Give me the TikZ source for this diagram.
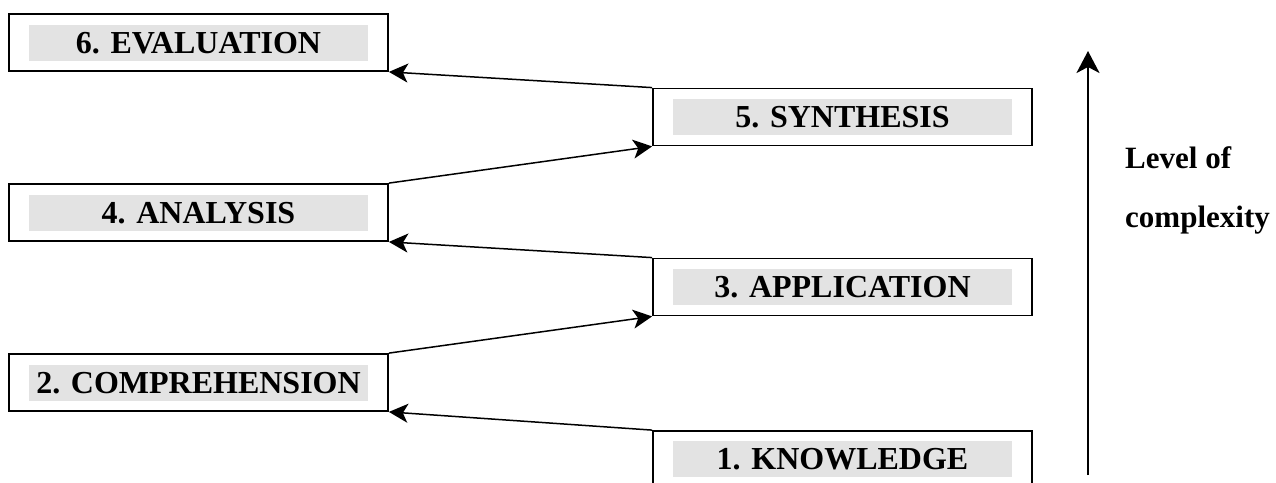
\documentclass[tikz,border=0pt]{standalone}
\usepackage{fontspec}
\setmainfont{Liberation Serif}
\usetikzlibrary{arrows.meta}
\definecolor{boxgray}{RGB}{227,227,227}
\tikzset{
  outerbox/.style={draw, line width=1.8pt, minimum width=379pt, minimum height=57pt, inner sep=0pt},
  labelbox/.style={fill=boxgray, minimum width=339pt, minimum height=36pt, inner sep=0pt,
                   text height=21.5pt, text depth=0pt, font=\fontsize{32}{38}\selectfont\bfseries},
  link/.style={line width=1.5pt, -{Stealth[length=19pt,width=19pt,inset=5pt]}},
  axisarrow/.style={line width=2.4pt, -{Stealth[length=22pt,width=23pt,inset=6pt]}},
  side/.style={anchor=base west, inner sep=0pt, font=\fontsize{31}{37}\selectfont\bfseries}
}
\begin{document}
\begin{tikzpicture}[x=1pt,y=-1pt]
\useasboundingbox (0,0) rectangle (1276,482);
\clip (0,0) rectangle (1276,482);
% boxes
\node[outerbox] (b6) at (198.5,42.5) {};
\node[labelbox] (t6) at (198.5,43) {6. EVALUATION};
\node[outerbox] (b5) at (842.5,117) {};
\node[labelbox] (t5) at (842.5,117) {5. SYNTHESIS};
\node[outerbox] (b4) at (198.5,212.5) {};
\node[labelbox] (t4) at (198.5,212.5) {4. ANALYSIS};
\node[outerbox] (b3) at (842.5,287) {};
\node[labelbox] (t3) at (842.5,287) {3. APPLICATION};
\node[outerbox] (b2) at (198.5,382.5) {};
\node[labelbox] (t2) at (198.5,382.5) {2. COMPREHENSION};
\node[outerbox] (b1) at (842.5,459.5) {};
\node[labelbox] (t1) at (842.5,459) {1. KNOWLEDGE};
% connectors
\draw[link] (b5.north west) -- (b6.south east);
\draw[link] (b4.north east) -- (b5.south west);
\draw[link] (b3.north west) -- (b4.south east);
\draw[link] (b2.north east) -- (b3.south west);
\draw[link] (b1.north west) -- (b2.south east);
% complexity axis
\coordinate (axbot) at (1088,475);
\coordinate (axtop) at (1088,51);
\draw[axisarrow] (axbot) -- (axtop);
\node[side] (lvl) at (1125,168) {Level of};
\node[side] (cpx) at (1125,227) {complexity};
\end{tikzpicture}
\end{document}
